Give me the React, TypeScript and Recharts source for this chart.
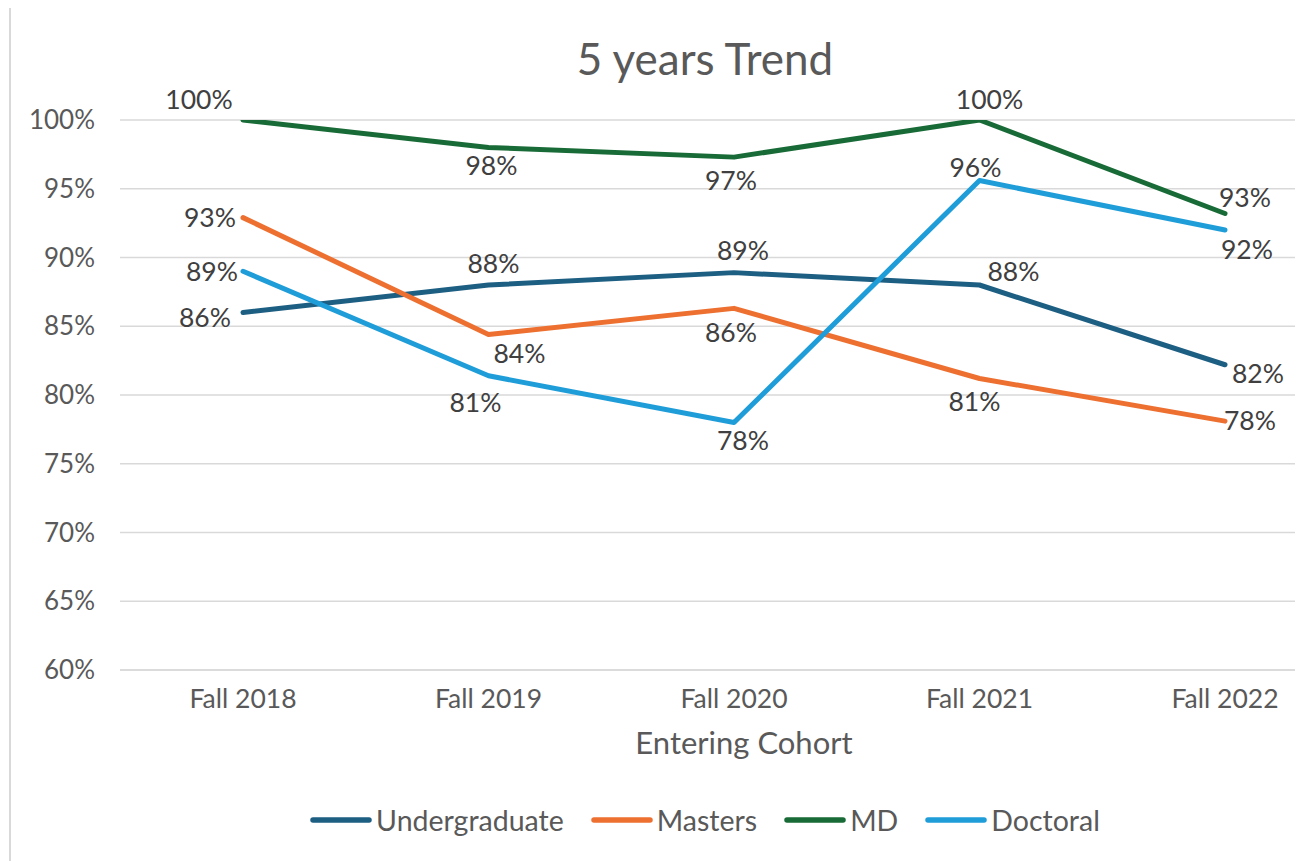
import React from 'react';
import { LineChart, Line, XAxis, YAxis, CartesianGrid, Legend, LabelList } from 'recharts';

const cohorts = ['Fall 2018', 'Fall 2019', 'Fall 2020', 'Fall 2021', 'Fall 2022'];
const undergraduate = [86.0, 88.0, 88.9, 88.0, 82.2];
const masters = [92.9, 84.4, 86.3, 81.2, 78.1];
const md = [100, 98.0, 97.3, 100, 93.2];
const doctoral = [89.0, 81.4, 78.0, 95.6, 92.0];
const yTicks = [60, 65, 70, 75, 80, 85, 90, 95, 100];

const title = '5 years Trend';
const xTitle = 'Entering Cohort';

// label offsets (dx, dy) relative to each point, mimicking the reference placement
const undergradLabelOffsets = [[-38, 4], [5, -22], [9, -23], [34, -14], [33, 8]];
const mastersLabelOffsets = [[-33, -1], [31, 18], [-3, 24], [-5, 22], [25, -1]];
const mdLabelOffsets = [[-44, -21], [3, 17], [-3, 23], [10, -21], [20, -17]];
const doctoralLabelOffsets = [[-31, 0], [-13, 26], [9, 17], [-4, -14], [22, 19]];

const data = cohorts.map((c, i) => ({
  cohort: c,
  Undergraduate: undergraduate[i],
  Masters: masters[i],
  MD: md[i],
  Doctoral: doctoral[i],
}));

const series = [
  { key: 'Undergraduate', color: '#1D5E83', offsets: undergradLabelOffsets },
  { key: 'Masters', color: '#ED7031', offsets: mastersLabelOffsets },
  { key: 'MD', color: '#186B36', offsets: mdLabelOffsets },
  { key: 'Doctoral', color: '#1F9DD9', offsets: doctoralLabelOffsets },
];

const FONT = 'Lato, "Open Sans", sans-serif';

const makeLabel = (offsets: number[][]) => (props: any) => {
  const { x, y, value, index } = props;
  const [dx, dy] = offsets[index] || [0, 0];
  return (
    <text
      x={x + dx}
      y={y + dy}
      textAnchor="middle"
      dominantBaseline="central"
      fill="#404040"
      fontSize={26.5}
      fontFamily={FONT}
    >
      {`${Math.round(value)}%`}
    </text>
  );
};

const renderLegend = () => (
  <div
    style={{
      display: 'flex',
      justifyContent: 'center',
      alignItems: 'center',
      gap: 27,
      fontFamily: FONT,
      fontSize: 28.5,
      color: '#595959',
    }}
  >
    {series.map((s) => (
      <div key={s.key} style={{ display: 'flex', alignItems: 'center' }}>
        <svg width={62} height={10} style={{ marginRight: 4 }}>
          <line x1={3} y1={5} x2={59} y2={5} stroke={s.color} strokeWidth={5.5} strokeLinecap="round" />
        </svg>
        <span>{s.key}</span>
      </div>
    ))}
  </div>
);

const renderAxisTitle = (props: any) => {
  const { viewBox } = props;
  const cx = viewBox.x + viewBox.width / 2 + 10;
  return (
    <text
      x={cx}
      y={742 - 8}
      textAnchor="middle"
      dominantBaseline="central"
      fill="#595959"
      fontSize={31}
      fontFamily={FONT}
    >
      {xTitle}
    </text>
  );
};

export default function App() {
  return (
    <div style={{ position: 'relative', width: 1295, height: 853, overflow: 'hidden' }}>
      <div style={{ position: 'absolute', left: 1, top: 0, width: 2, height: 853, background: '#d9d9d9' }} />
      <div
        style={{
          position: 'absolute',
          left: 0,
          top: 24,
          width: 1394,
          textAlign: 'center',
          fontFamily: FONT,
          fontSize: 44,
          color: '#595959',
          lineHeight: '52px',
        }}
      >
        {title}
      </div>
      <LineChart
        width={1394}
        height={853}
        data={data}
        margin={{ top: 112, right: 54, left: 0, bottom: 141 }}
      >
        <CartesianGrid vertical={false} stroke="#d9d9d9" strokeWidth={1.5} />
        <XAxis
          dataKey="cohort"
          padding={{ left: 123, right: 123 }}
          axisLine={{ stroke: '#d9d9d9', strokeWidth: 1.5 }}
          tickLine={false}
          tickMargin={13}
          height={50}
          tick={{ fill: '#595959', fontSize: 26.5, fontFamily: FONT }}
          label={renderAxisTitle}
        />
        <YAxis
          width={112}
          domain={[60, 100]}
          ticks={yTicks}
          allowDataOverflow
          axisLine={false}
          tickLine={false}
          tickMargin={19}
          tickFormatter={(v: number) => `${v}%`}
          tick={{ fill: '#595959', fontSize: 26, fontFamily: FONT }}
        />
        <Legend
          layout="horizontal"
          verticalAlign="middle"
          align="center"
          content={renderLegend}
          wrapperStyle={{ top: 795, left: 0, width: 1394 }}
        />
        {series.map((s) => (
          <Line
            key={s.key}
            type="linear"
            dataKey={s.key}
            stroke={s.color}
            strokeWidth={5}
            strokeLinecap="round"
            strokeLinejoin="round"
            dot={false}
            activeDot={false}
            isAnimationActive={false}
          >
            <LabelList dataKey={s.key} content={makeLabel(s.offsets)} />
          </Line>
        ))}
      </LineChart>
    </div>
  );
}
